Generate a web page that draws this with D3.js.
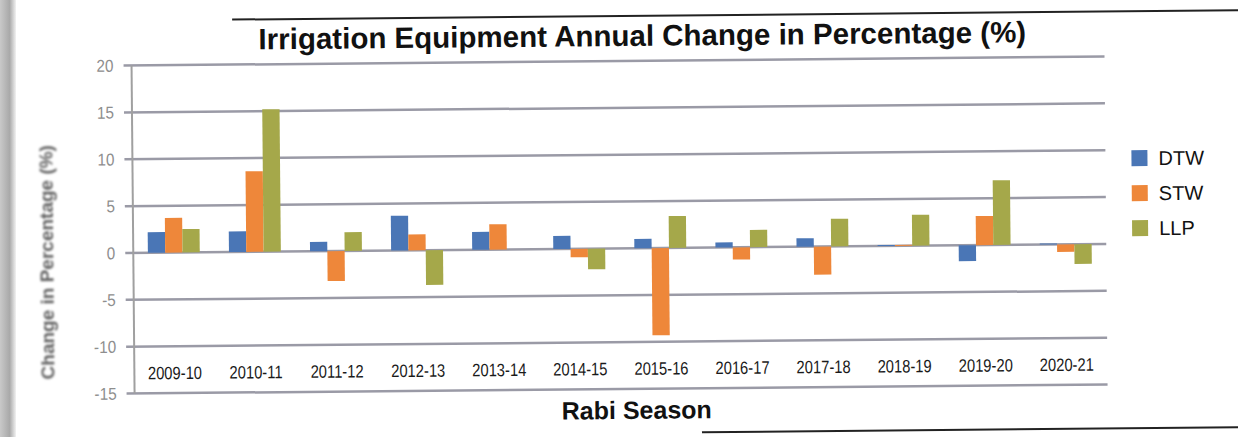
<!DOCTYPE html>
<html>
<head>
<meta charset="utf-8">
<script src="https://cdn.jsdelivr.net/npm/d3@7/dist/d3.min.js"></script>
<style>
  body { margin: 0; background: #fff; }
  svg { display: block; }
</style>
</head>
<body>
<div id="chart"></div>
<script>
// data
var seasons = ["2009-10", "2010-11", "2011-12", "2012-13", "2013-14", "2014-15",
               "2015-16", "2016-17", "2017-18", "2018-19", "2019-20", "2020-21"];
var seriesNames = ["DTW", "STW", "LLP"];
var dtw = [2.2, 2.2, 1.0, 3.7, 1.9, 1.4, 1.0, 0.55, 0.9, 0.1, -1.7, 0.1];
var stw = [3.7, 8.6, -3.2, 1.7, 2.7, -0.9, -9.3, -1.3, -3.0, 0.1, 3.1, -0.8];
var llp = [2.5, 15.2, 2.0, -3.7, 0, -2.2, 3.4, 1.85, 2.95, 3.3, 6.9, -2.1];
var yTicks = [20, 15, 10, 5, 0, -5, -10, -15];

var colors = {DTW: "#4a76b6", STW: "#ee873a", LLP: "#a5a84a"};

var W = 1238, H = 437;
var margin = {top: 61, right: 132, bottom: 48, left: 133};

var svg = d3.select("#chart")
  .append("svg")
    .attr("width", W)
    .attr("height", H);

// scanner shadow strip on the left edge
var grad = svg.append("defs").append("linearGradient")
  .attr("id", "edge").attr("x1", "0").attr("x2", "1");
grad.append("stop").attr("offset", "0").attr("stop-color", "#c9c9c9");
grad.append("stop").attr("offset", "0.6").attr("stop-color", "#a9a9a9");
grad.append("stop").attr("offset", "1").attr("stop-color", "#f2f2f2");
svg.append("rect")
  .attr("x", 0).attr("y", 0).attr("width", 16).attr("height", H)
  .attr("fill", "url(#edge)");

svg.select("defs").append("filter").attr("id", "soft")
  .append("feGaussianBlur").attr("stdDeviation", 0.9);

// the page was scanned a little crooked
var g = svg.append("g")
  .attr("transform", "rotate(-0.53, 620, 220)");

// page edges
g.append("line").attr("x1", 234).attr("x2", 1260).attr("y1", 16).attr("y2", 16)
  .attr("stroke", "#222").attr("stroke-width", 2);
g.append("line").attr("x1", 700).attr("x2", 1260).attr("y1", 433).attr("y2", 433)
  .attr("stroke", "#222").attr("stroke-width", 2);

var x0 = d3.scaleBand()
  .domain(seasons)
  .range([margin.left, 1106])
  .paddingInner(0.36)
  .paddingOuter(0.18);

var x1 = d3.scaleBand()
  .domain(seriesNames)
  .range([0, x0.bandwidth()]);

var y = d3.scaleLinear()
  .domain([-15, 20])
  .range([389, margin.top]);

// gridlines
g.append("g")
  .selectAll("line")
  .data(yTicks)
  .enter()
  .append("line")
    .attr("x1", margin.left - 8)
    .attr("x2", 1106)
    .attr("y1", function(d) { return y(d); })
    .attr("y2", function(d) { return y(d); })
    .attr("stroke", "#9a9aa6")
    .attr("stroke-width", 2.5);

// y axis line
g.append("line")
  .attr("x1", margin.left).attr("x2", margin.left)
  .attr("y1", y(20)).attr("y2", y(-15))
  .attr("stroke", "#a0a0a0").attr("stroke-width", 2);

// y tick labels
g.append("g")
  .selectAll("text")
  .data(yTicks)
  .enter()
  .append("text")
    .attr("transform", function(d) { return "translate(115," + y(d) + ") scale(0.9,1)"; })
    .attr("dy", "0.35em")
    .attr("text-anchor", "end")
    .style("font-family", "'Liberation Sans', Arial, sans-serif")
    .style("font-size", "17px")
    .style("fill", "#8e8e8e")
    .text(function(d) { return d; });

// bars
var rows = seasons.map(function(s, i) {
  return {season: s, values: [
    {key: "DTW", value: dtw[i]},
    {key: "STW", value: stw[i]},
    {key: "LLP", value: llp[i]}
  ]};
});

g.append("g")
  .selectAll("g")
  .data(rows)
  .enter()
  .append("g")
    .attr("transform", function(d) { return "translate(" + x0(d.season) + ",0)"; })
  .selectAll("rect")
  .data(function(d) { return d.values; })
  .enter()
  .append("rect")
    .attr("x", function(d) { return x1(d.key); })
    .attr("width", x1.bandwidth())
    .attr("y", function(d) { return y(Math.max(0, d.value)); })
    .attr("height", function(d) { return Math.abs(y(d.value) - y(0)); })
    .attr("fill", function(d) { return colors[d.key]; });

// category labels (sit in the band between -10 and -15), narrow like the print
g.append("g")
  .selectAll("text")
  .data(seasons)
  .enter()
  .append("text")
    .attr("transform", function(d) {
      return "translate(" + (x0(d) + x0.bandwidth() / 2) + ",375) scale(0.82,1)";
    })
    .attr("text-anchor", "middle")
    .style("font-family", "'Liberation Sans', Arial, sans-serif")
    .style("font-size", "18px")
    .style("fill", "#1a1a1a")
    .text(function(d) { return d; });

// titles
g.append("text")
  .attr("x", 644).attr("y", 46)
  .attr("text-anchor", "middle")
  .style("font-family", "'Liberation Sans', Arial, sans-serif")
  .style("font-weight", "bold")
  .style("font-size", "29.5px")
  .style("fill", "#111")
  .text("Irrigation Equipment Annual Change in Percentage (%)");

g.append("text")
  .attr("x", 635).attr("y", 419)
  .attr("text-anchor", "middle")
  .style("font-family", "'Liberation Sans', Arial, sans-serif")
  .style("font-weight", "bold")
  .style("font-size", "25px")
  .style("fill", "#111")
  .text("Rabi Season");

g.append("text")
  .attr("transform", "translate(53,257) rotate(-90)")
  .attr("text-anchor", "middle")
  .attr("filter", "url(#soft)")
  .style("font-family", "'Liberation Sans', Arial, sans-serif")
  .style("font-weight", "bold")
  .style("font-size", "19px")
  .style("fill", "#5e5e5e")
  .text("Change in Percentage (%)");

// legend
var legend = g.append("g")
  .selectAll("g")
  .data(seriesNames)
  .enter()
  .append("g")
    .attr("transform", function(d, i) { return "translate(1132," + (163 + i * 35) + ")"; });

legend.append("rect")
  .attr("x", 0).attr("y", -8)
  .attr("width", 16).attr("height", 16)
  .attr("fill", function(d) { return colors[d]; });

legend.append("text")
  .attr("x", 27).attr("y", 0)
  .attr("dy", "0.35em")
  .style("font-family", "'Liberation Sans', Arial, sans-serif")
  .style("font-size", "20px")
  .style("fill", "#111")
  .text(function(d) { return d; });
</script>
</body>
</html>
